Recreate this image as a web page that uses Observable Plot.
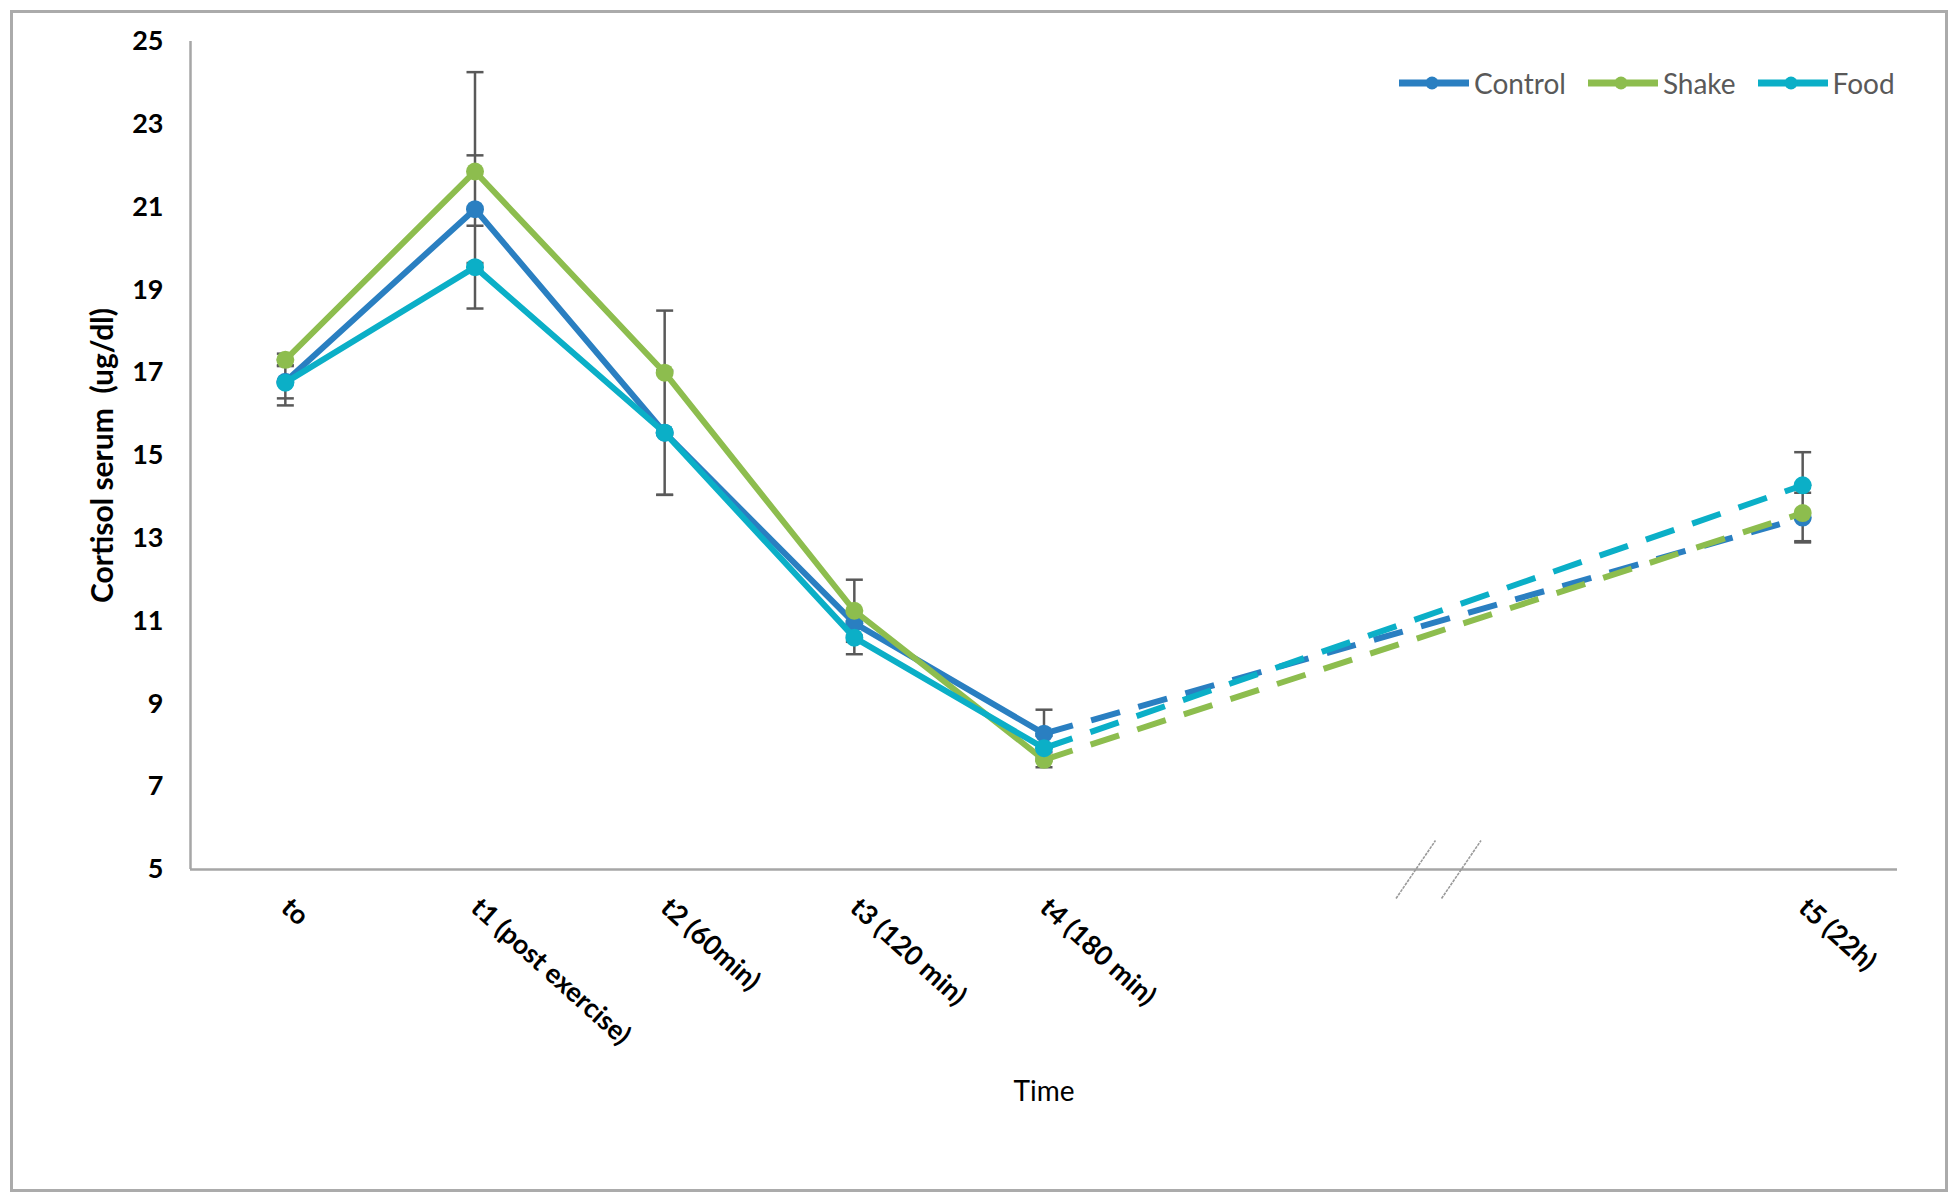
<!DOCTYPE html>
<html>
<head>
<meta charset="utf-8">
<script src="https://cdn.jsdelivr.net/npm/d3@7"></script>
<script src="https://cdn.jsdelivr.net/npm/@observablehq/plot@0.6"></script>
<style>
  html, body { margin: 0; padding: 0; background: #fff; }
  #wrap { position: relative; width: 1957px; height: 1199px; overflow: hidden; }
  #frame { position: absolute; left: 10px; top: 10px; width: 1932px; height: 1176px; border: 3px solid #ABABAB; box-sizing: content-box; pointer-events: none; }
  #chart { position: absolute; left: 0; top: 0; }
  #legend { position: absolute; left: 1399px; top: 66px; display: flex; align-items: center; font-family: Lato, sans-serif; font-size: 28px; color: #595959; }
  .item { display: flex; align-items: center; margin-right: 22px; }
  .item svg { margin-right: 5px; }
</style>
</head>
<body>
<div id="wrap">
  <div id="chart"></div>
  <div id="frame"></div>
  <div id="legend"></div>
</div>
<script>
// ---- data ----
const categories = ["to", "t1 (post exercise)", "t2 (60min)", "t3 (120 min)", "t4 (180 min)", "t5 (22h)"];
const slots = [0, 1, 2, 3, 4, 8];           // t5 sits after an axis break
const seriesNames = ["Control", "Shake", "Food"];
const seriesColors = ["#2A7FC1", "#8DBD4E", "#0BAFC7"];
const control = [16.78, 20.95, 15.55, 10.95, 8.28, 13.5];
const shake   = [17.31, 21.86, 17.0, 11.25, 7.65, 13.61];
const food    = [16.76, 19.55, 15.55, 10.6, 7.93, 14.28];
const controlErr = [0.40, 1.30, 1.50, 0.30, 0.58, 0.60];
const shakeErr   = [0.15, 2.40, 1.50, 0.75, 0.18, 0.68];
const foodErr    = [0.55, 1.00, 1.50, 0.40, 0.30, 0.80];
const yTicks = [5, 7, 9, 11, 13, 15, 17, 19, 21, 23, 25];
const breakSlots = [5.96, 6.2];
const yLabel = "Cortisol serum  (ug/dl)";
const xLabel = "Time";

// ---- table ----
const valuesBy = {Control: control, Shake: shake, Food: food};
const errBy = {Control: controlErr, Shake: shakeErr, Food: foodErr};
const rows = [];
seriesNames.forEach(s => {
  categories.forEach((c, i) => {
    rows.push({series: s, cat: c, slot: slots[i], i, value: valuesBy[s][i], err: errBy[s][i]});
  });
});
const colorOf = s => seriesColors[seriesNames.indexOf(s)];
const solidRows = rows.filter(d => d.i <= 4);
const dashRows = rows.filter(d => d.i >= 4);
const caps = rows.flatMap(d => [{slot: d.slot, v: d.value + d.err}, {slot: d.slot, v: d.value - d.err}]);

// custom symbols
const capSymbol = { draw(ctx, size) { const r = Math.sqrt(size / Math.PI); ctx.moveTo(-r, 0); ctx.lineTo(r, 0); } };
const slashSymbol = { draw(ctx, size) { const r = Math.sqrt(size / Math.PI); ctx.moveTo(-r * 0.68, r); ctx.lineTo(r * 0.68, -r); } };

const chart = Plot.plot({
  width: 1957,
  height: 1199,
  marginLeft: 190,
  marginRight: 60,
  marginTop: 41,
  marginBottom: 330,
  x: {domain: [-0.5, 8.5], axis: null},
  y: {domain: [5, 25], axis: null},
  style: {fontFamily: "Lato, sans-serif", background: "transparent", overflow: "visible"},
  marks: [
    // axes lines
    Plot.ruleX([-0.5], {y1: 5, y2: 25, stroke: "#A6A6A6", strokeWidth: 2.5}),
    Plot.ruleY([5], {stroke: "#A6A6A6", strokeWidth: 2.5}),
    Plot.dot(breakSlots, {x: d => d, y: 5, symbol: slashSymbol, r: 29, stroke: "#9A9A9A", strokeWidth: 1.6, fill: "none", strokeDasharray: "3,1"}),
    Plot.axisY({ticks: yTicks, tickSize: 0, tickPadding: 27, fontSize: 27, fontWeight: "bold", fill: "#000", label: null}),
    Plot.axisX({ticks: slots, tickFormat: v => categories[slots.indexOf(v)], tickSize: 0, tickPadding: 34, tickRotate: 42, fontSize: 27, fontWeight: "bold", fill: "#000", label: null}),
    Plot.text([xLabel], {frameAnchor: "bottom", dy: 231, fontSize: 28, fill: "#000"}),
    Plot.text([yLabel], {frameAnchor: "left", textAnchor: "middle", rotate: -90, dx: -87, fontSize: 30, fontWeight: "bold", fill: "#000", letterSpacing: "1.5px"}),
    // error bars
    Plot.ruleX(categories, {x: (c, i) => slots[i], y1: (c, i) => d3.min(rows.filter(d => d.i === i), d => d.value - d.err), y2: (c, i) => d3.max(rows.filter(d => d.i === i), d => d.value + d.err), stroke: "#595959", strokeWidth: 2.5}),
    Plot.dot(caps, {x: "slot", y: "v", symbol: capSymbol, r: 8.5, stroke: "#595959", strokeWidth: 2.5, fill: "none"}),
    // lines and markers per series in drawing order
    ...seriesNames.flatMap(s => [
      Plot.line(solidRows.filter(d => d.series === s), {x: "slot", y: "value", stroke: colorOf(s), strokeWidth: 6}),
      Plot.line(dashRows.filter(d => d.series === s), {x: "slot", y: "value", stroke: colorOf(s), strokeWidth: 6, strokeDasharray: "30,19", strokeLinecap: "butt"}),
      Plot.dot(rows.filter(d => d.series === s), {x: "slot", y: "value", r: 9, fill: colorOf(s), stroke: "none"})
    ])
  ]
});
document.getElementById("chart").appendChild(chart);

// legend
const legend = document.getElementById("legend");
seriesNames.forEach((s, k) => {
  const item = document.createElement("div");
  item.className = "item";
  item.innerHTML = `<svg width="70" height="20"><line x1="0" y1="10" x2="70" y2="10" stroke="${seriesColors[k]}" stroke-width="7"/><circle cx="33" cy="10" r="6.5" fill="${seriesColors[k]}"/></svg><span>${s}</span>`;
  legend.appendChild(item);
});
</script>
</body>
</html>
